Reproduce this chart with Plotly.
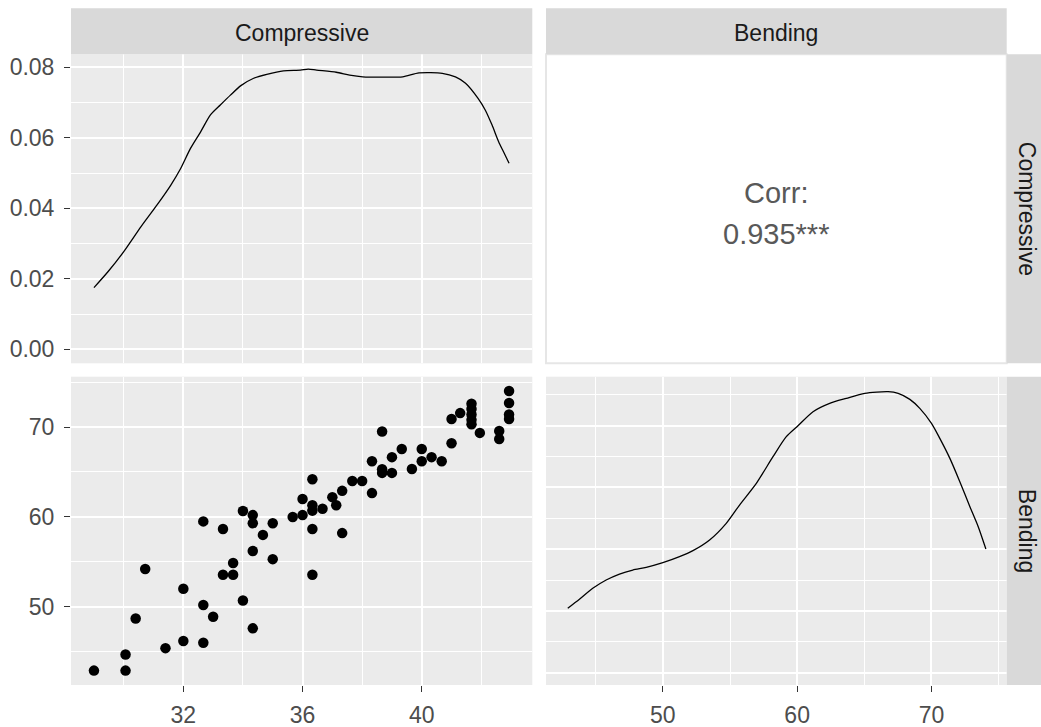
import plotly.graph_objects as go

W, H = 1041, 727

# ---------------- data ----------------
compressive = [29.0, 30.06, 30.06, 30.4, 30.72, 31.4, 32.0, 32.0, 32.67, 32.67,
               32.67, 33.0, 33.33, 33.33, 33.67, 33.67, 34.0, 34.0, 34.33, 34.33,
               34.33, 34.33, 34.67, 35.0, 35.0, 35.67, 36.0, 36.0, 36.33, 36.33,
               36.33, 36.33, 36.33, 36.67, 37.0, 37.13, 37.33, 37.33, 37.67, 38.0,
               38.33, 38.33, 38.67, 38.67, 38.67, 39.0, 39.0, 39.33, 39.67, 40.0,
               40.0, 40.33, 40.67, 41.0, 41.0, 41.29, 41.67, 41.67, 41.67, 41.67,
               41.67, 41.95, 42.6, 42.6, 42.93, 42.93, 42.93, 42.93]
bending = [42.9, 42.9, 44.7, 48.7, 54.2, 45.4, 52.0, 46.2, 59.5, 50.2,
           46.0, 48.9, 58.65, 53.57, 54.87, 53.57, 60.66, 50.7, 60.2, 59.3,
           56.2, 47.6, 58.0, 59.3, 55.3, 60.0, 62.0, 60.2, 64.2, 61.3,
           60.7, 58.65, 53.57, 60.9, 62.2, 61.3, 62.9, 58.2, 64.0, 64.0,
           66.2, 62.65, 69.5, 65.3, 64.9, 66.65, 64.9, 67.55, 65.33, 67.55,
           66.2, 66.65, 66.2, 68.2, 70.9, 71.55, 72.6, 72.0, 71.4, 70.8,
           70.3, 69.35, 69.56, 68.67, 74.0, 72.67, 71.4, 70.9]

comp_dens_x = [29.0, 29.47, 30.0, 30.58, 31.13, 31.58, 31.91, 32.24, 32.58, 32.91,
               33.24, 33.58, 33.93, 34.36, 34.8, 35.36, 35.93, 36.19, 36.47, 37.13,
               37.58, 38.02, 38.69, 39.36, 39.91, 40.69, 41.13, 41.47, 41.89, 42.13,
               42.36, 42.58, 42.74, 42.93]
comp_dens_y = [0.0175, 0.0220, 0.0277, 0.0348, 0.0411, 0.0466, 0.0513, 0.0570, 0.0617, 0.0665,
               0.0693, 0.0721, 0.0748, 0.0769, 0.0780, 0.0790, 0.0792, 0.0795, 0.0792, 0.0786,
               0.0778, 0.0773, 0.0772, 0.0773, 0.0784, 0.0783, 0.0773, 0.0755, 0.0712, 0.0679,
               0.0636, 0.0589, 0.0561, 0.0528]

bend_dens_x = [42.92, 43.79, 44.78, 45.78, 46.77, 47.76, 48.76, 50.0, 51.24, 52.24,
               53.48, 54.72, 55.71, 56.96, 58.2, 59.19, 59.99, 61.18, 62.42, 63.66,
               65.03, 66.77, 67.52, 68.39, 69.13, 70.0, 70.62, 71.37, 72.11, 72.86,
               73.48, 74.05]
bend_dens_y = [0.01042, 0.01188, 0.01366, 0.01501, 0.01598, 0.01663, 0.01706, 0.01782, 0.01879, 0.01976,
               0.02149, 0.02419, 0.02716, 0.03067, 0.03499, 0.03823, 0.03985, 0.04228, 0.04363, 0.04444,
               0.04525, 0.04552, 0.04525, 0.04428, 0.04282, 0.04039, 0.03796, 0.03472, 0.03094, 0.02689,
               0.02365, 0.02003]

var_names = ["Compressive", "Bending"]
corr_title = "Corr:"
corr_value = "0.935***"

# ---------------- layout geometry (pixels) ----------------
COL_L = (71, 532.3)
COL_R = (546, 1006.7)
ROW_T = (54.3, 363.3)
ROW_B = (376.7, 685)
STRIP_TOP = 8.3

def xdom(c):
    return [c[0] / W, c[1] / W]

def ydom(r):
    return [1 - r[1] / H, 1 - r[0] / H]

def px_x(v):
    return v / W

def px_y(v):
    return 1 - v / H

FONT = "Liberation Sans, Arial, sans-serif"
TICKFONT = dict(family=FONT, size=23, color="#4D4D4D")

comp_range = [28.23, 43.71]
bend_range = [41.3, 75.6]

def axis(domain, rng, dtick, minor_dtick, labels, anchor, fmt=None, standoff=5):
    d = dict(domain=domain, range=rng, anchor=anchor,
             showgrid=True, gridcolor="white", gridwidth=2.2,
             zeroline=False, showline=False,
             tickmode="linear", tick0=0, dtick=dtick,
             minor=dict(showgrid=True, gridcolor="white", gridwidth=1.1,
                        tick0=0, dtick=minor_dtick, ticks=""),
             fixedrange=True)
    if labels:
        d.update(ticks="outside", ticklen=6, tickwidth=1.3, tickcolor="#333333",
                 showticklabels=True, tickfont=TICKFONT, ticklabelstandoff=standoff)
        if fmt:
            d["tickformat"] = fmt
    else:
        d.update(ticks="", showticklabels=False)
    return d

fig = go.Figure()

# top-left density
fig.add_trace(go.Scatter(x=comp_dens_x, y=comp_dens_y, mode="lines",
                         line=dict(color="black", width=1.3, shape="spline", smoothing=0.7),
                         xaxis="x", yaxis="y", showlegend=False, hoverinfo="skip"))
# bottom-left scatter
fig.add_trace(go.Scatter(x=compressive, y=bending, mode="markers",
                         marker=dict(color="black", size=10.5, line=dict(width=0)),
                         xaxis="x2", yaxis="y2", showlegend=False, hoverinfo="skip"))
# bottom-right density
fig.add_trace(go.Scatter(x=bend_dens_x, y=bend_dens_y, mode="lines",
                         line=dict(color="black", width=1.3, shape="spline", smoothing=0.7),
                         xaxis="x3", yaxis="y3", showlegend=False, hoverinfo="skip"))

layout = dict(
    width=W, height=H, margin=dict(l=0, r=0, t=0, b=0),
    paper_bgcolor="white", plot_bgcolor="#EBEBEB",
    showlegend=False,
    xaxis=axis(xdom(COL_L), comp_range, 4, 2, False, "y"),
    yaxis=axis(ydom(ROW_T), [-0.00397, 0.08369], 0.02, 0.01, True, "x", ".2f"),
    xaxis2=axis(xdom(COL_L), comp_range, 4, 2, True, "y2", standoff=3),
    yaxis2=axis(ydom(ROW_B), bend_range, 10, 5, True, "x2"),
    xaxis3=axis(xdom(COL_R), bend_range, 10, 5, True, "y3", standoff=3),
    yaxis3=axis(ydom(ROW_B), [-0.0020, 0.04795], 0.01, 0.005, False, "x3"),
)

shapes = []
annotations = []

# Corr panel (white with light border)
shapes.append(dict(type="rect", xref="paper", yref="paper",
                   x0=px_x(COL_R[0]), x1=px_x(COL_R[1]),
                   y0=px_y(ROW_T[1]), y1=px_y(ROW_T[0]),
                   fillcolor="white", line=dict(color="#E6E6E6", width=2), layer="below"))

# top strips
for col, name in zip([COL_L, COL_R], var_names):
    shapes.append(dict(type="rect", xref="paper", yref="paper",
                       x0=px_x(col[0]), x1=px_x(col[1]),
                       y0=px_y(ROW_T[0]), y1=px_y(STRIP_TOP),
                       fillcolor="#D9D9D9", line=dict(width=0), layer="above"))
    annotations.append(dict(text=name, xref="paper", yref="paper",
                            x=px_x((col[0] + col[1]) / 2), y=px_y(33.5),
                            xanchor="center", yanchor="middle", showarrow=False,
                            font=dict(family=FONT, size=23, color="#1A1A1A")))

# right strips
for row, name in zip([ROW_T, ROW_B], var_names):
    shapes.append(dict(type="rect", xref="paper", yref="paper",
                       x0=px_x(COL_R[1]), x1=1.0,
                       y0=px_y(row[1]), y1=px_y(row[0]),
                       fillcolor="#D9D9D9", line=dict(width=0), layer="above"))
    annotations.append(dict(text=name, xref="paper", yref="paper",
                            x=px_x(1027), y=px_y((row[0] + row[1]) / 2),
                            xanchor="center", yanchor="middle", showarrow=False,
                            textangle=90,
                            font=dict(family=FONT, size=23, color="#1A1A1A")))

# correlation text
cx = (COL_R[0] + COL_R[1]) / 2
annotations.append(dict(text=corr_title, xref="paper", yref="paper",
                        x=px_x(cx), y=px_y(192.5), xanchor="center", yanchor="middle",
                        showarrow=False, font=dict(family=FONT, size=29, color="#595959")))
annotations.append(dict(text=corr_value, xref="paper", yref="paper",
                        x=px_x(cx), y=px_y(233.5), xanchor="center", yanchor="middle",
                        showarrow=False, font=dict(family=FONT, size=29, color="#595959")))

layout["shapes"] = shapes
layout["annotations"] = annotations
fig.update_layout(**layout)

fig.write_html("out.html", config={"displayModeBar": False})
